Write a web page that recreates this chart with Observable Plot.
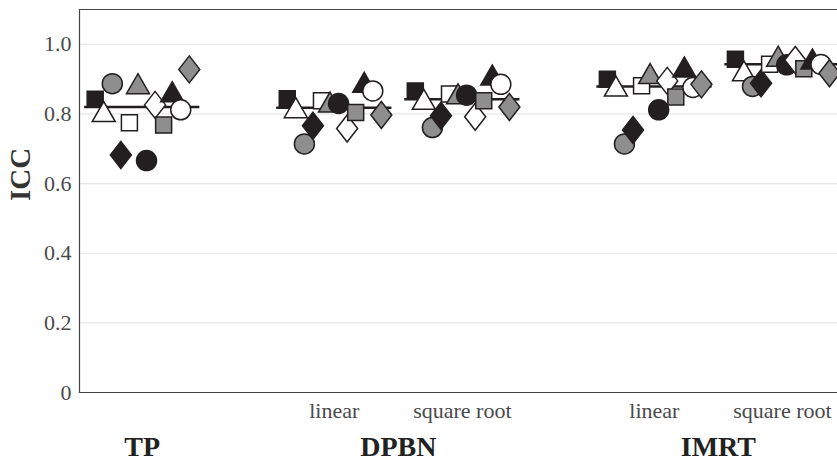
<!DOCTYPE html>
<html>
<head>
<meta charset="utf-8">
<script src="https://cdn.jsdelivr.net/npm/d3@7"></script>
<script src="https://cdn.jsdelivr.net/npm/@observablehq/plot@0.6"></script>
<style>
  html, body { margin: 0; padding: 0; background: #fff; }
</style>
</head>
<body>
<div id="chart"></div>
<script>
// ---- data ----
const groups = ["TP", "DPBN linear", "DPBN square root", "IMRT linear", "IMRT square root"];
const groupPos = [0, 3, 5, 8, 10];
const series = ["1", "2", "3", "4", "5", "6", "7", "8", "9", "10", "11", "12"];
const tpICC       = [0.842, 0.807, 0.887, 0.682, 0.775, 0.887, 0.666, 0.826, 0.768, 0.864, 0.812, 0.928];
const dpbnLinICC  = [0.844, 0.818, 0.714, 0.766, 0.838, 0.834, 0.830, 0.758, 0.804, 0.891, 0.866, 0.797];
const dpbnSqrtICC = [0.866, 0.842, 0.761, 0.795, 0.857, 0.858, 0.854, 0.792, 0.838, 0.912, 0.885, 0.820];
const imrtLinICC  = [0.900, 0.880, 0.714, 0.754, 0.881, 0.916, 0.812, 0.895, 0.849, 0.935, 0.876, 0.885];
const imrtSqrtICC = [0.957, 0.924, 0.879, 0.888, 0.943, 0.966, 0.941, 0.955, 0.930, 0.958, 0.942, 0.917];
const meanICC = [0.820, 0.818, 0.842, 0.879, 0.943];
const subLabels = ["", "linear", "square root", "linear", "square root"];
const mainLabels = ["TP", "DPBN", "IMRT"];
const mainLabelPos = [0, 4, 9];
const yTicks = [0, 0.2, 0.4, 0.6, 0.8, 1.0];
const yLabel = "ICC";

// ---- styles ----
const BLACK = "#231f20", GRAY = "#8e8e8e", WHITE = "#ffffff";
const shapes = {
  square: { draw(ctx, size) { const r = Math.sqrt(size / Math.PI); const h = 0.8 * r; ctx.moveTo(-h, -h); ctx.lineTo(h, -h); ctx.lineTo(h, h); ctx.lineTo(-h, h); ctx.closePath(); } },
  triangle: { draw(ctx, size) { const r = Math.sqrt(size / Math.PI); ctx.moveTo(0, -r); ctx.lineTo(1.15 * r, r); ctx.lineTo(-1.15 * r, r); ctx.closePath(); } },
  circle: { draw(ctx, size) { const r = Math.sqrt(size / Math.PI); ctx.moveTo(r, 0); ctx.arc(0, 0, r, 0, 2 * Math.PI); ctx.closePath(); } },
  diamond: { draw(ctx, size) { const r = Math.sqrt(size / Math.PI); ctx.moveTo(0, -1.35 * r); ctx.lineTo(1.05 * r, 0); ctx.lineTo(0, 1.35 * r); ctx.lineTo(-1.05 * r, 0); ctx.closePath(); } }
};
const seriesStyle = {
  "1": ["square", BLACK], "2": ["triangle", WHITE], "3": ["circle", GRAY], "4": ["diamond", BLACK],
  "5": ["square", WHITE], "6": ["triangle", GRAY], "7": ["circle", BLACK], "8": ["diamond", WHITE],
  "9": ["square", GRAY], "10": ["triangle", BLACK], "11": ["circle", WHITE], "12": ["diamond", GRAY]
};

// ---- build tables ----
const groupValues = [tpICC, dpbnLinICC, dpbnSqrtICC, imrtLinICC, imrtSqrtICC];
const step = 0.1336, halfLine = 0.9;
const rows = groups.flatMap((g, gi) => groupValues[gi].map((v, si) => ({
  group: g, series: series[si], x: groupPos[gi] + (si - (series.length - 1) / 2) * step, icc: v
})));
const means = groups.map((g, gi) => ({ group: g, x1: groupPos[gi] - halfLine, x2: groupPos[gi] + halfLine, icc: meanICC[gi] }));
const subs = groups.map((g, gi) => ({ x: groupPos[gi], label: subLabels[gi] })).filter(d => d.label);
const mains = mainLabels.map((l, i) => ({ x: mainLabelPos[i], label: l }));

const dotMarks = series.map(s => Plot.dot(rows.filter(d => d.series === s), {
  x: "x", y: "icc", r: 10,
  symbol: shapes[seriesStyle[s][0]], fill: seriesStyle[s][1],
  stroke: BLACK, strokeWidth: 1.5
}));

const chart = Plot.plot({
  width: 837, height: 461,
  marginLeft: 79, marginRight: 0, marginTop: 9, marginBottom: 69,
  style: { fontFamily: "Liberation Serif", fontSize: "22px", color: "#4a4a4a", background: "#fff" },
  x: { type: "linear", domain: [-0.98, 10.86], axis: null },
  y: { domain: [0, 1.1], axis: null },
  marks: [
    Plot.gridY(yTicks.filter(t => t > 0), { stroke: "#e6e6e6", strokeOpacity: 1, strokeWidth: 1.2 }),
    Plot.axisY(yTicks, { tickSize: 0, tickPadding: 8, tickFormat: d => d === 0 ? "0" : d.toFixed(1), label: null, fill: "#4a4a4a", fontSize: 22 }),
    Plot.text([yLabel], { frameAnchor: "left", rotate: -90, dx: -59, fontWeight: "bold", fontSize: 29, fill: "#333" }),
    Plot.frame({ anchor: "top", stroke: "#444", strokeWidth: 1.2 }),
    Plot.frame({ anchor: "left", stroke: "#444", strokeWidth: 1.2 }),
    Plot.frame({ anchor: "bottom", stroke: "#444", strokeWidth: 1.2 }),
    Plot.ruleY(means, { y: "icc", x1: "x1", x2: "x2", stroke: BLACK, strokeWidth: 2.5 }),
    ...dotMarks,
    Plot.text(subs, { x: "x", frameAnchor: "bottom", dy: 25, text: "label", fontSize: 22, fill: "#4a4a4a" }),
    Plot.text(mains, { x: "x", frameAnchor: "bottom", dy: 63, text: "label", fontSize: 28, fontWeight: "bold", fill: "#222" })
  ]
});
document.getElementById("chart").appendChild(chart);
</script>
</body>
</html>
